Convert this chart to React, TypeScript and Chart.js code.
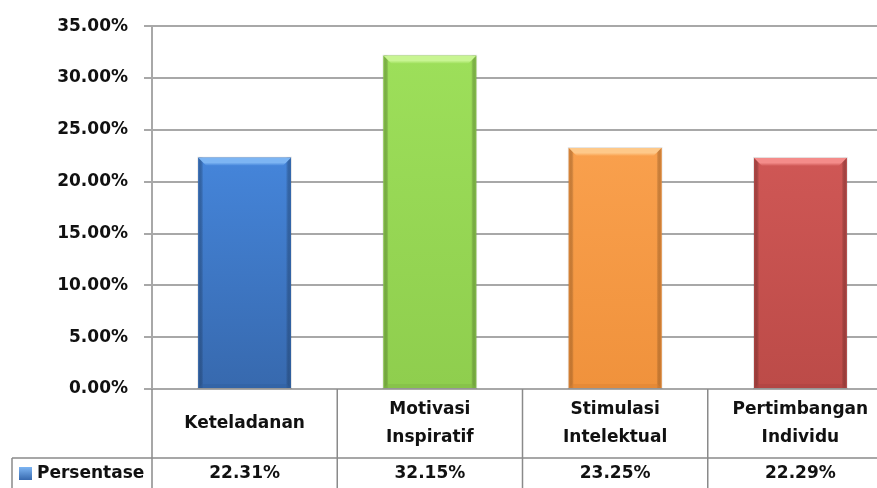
import React, { useEffect, useRef } from "react";
import { Chart, registerables } from "chart.js";

Chart.register(...registerables);

const categories: string[][] = [
  ["Keteladanan"],
  ["Motivasi", "Inspiratif"],
  ["Stimulasi", "Intelektual"],
  ["Pertimbangan", "Individu"],
];
const seriesName = "Persentase";
const values: number[] = [0.2231, 0.3215, 0.2325, 0.2229];
const valueLabels: string[] = ["22.31%", "32.15%", "23.25%", "22.29%"];
const yMin = 0;
const yMax = 0.35;
const yStep = 0.05;

const barPalette = [
  { body: "#4585da", light: "#7db5f3", dark: "#3769ae", edge: "#30609f" },
  { body: "#9ddf5a", light: "#c8f592", dark: "#8fce4e", edge: "#80b746" },
  { body: "#f9a04d", light: "#fec98a", dark: "#f0923c", edge: "#db8232" },
  { body: "#cf5755", light: "#f48c8a", dark: "#bc4b48", edge: "#a94240" },
];

const FONT = '"DejaVu Sans", sans-serif';
const TABLE_LEFT = 12;
const ROW1_BOTTOM = 458;

const bevelPlugin = {
  id: "bevel",
  afterDatasetsDraw(chart: any) {
    const ctx = chart.ctx;
    const meta = chart.getDatasetMeta(0);
    meta.data.forEach((bar: any, i: number) => {
      const p = barPalette[i % barPalette.length];
      const left = bar.x - bar.width / 2;
      const right = bar.x + bar.width / 2;
      const top = bar.y;
      const bottom = bar.base;
      const w = right - left;
      const h = bottom - top;
      ctx.save();
      const g = ctx.createLinearGradient(0, top, 0, bottom);
      g.addColorStop(0, p.body);
      g.addColorStop(1, p.dark);
      ctx.fillStyle = g;
      ctx.fillRect(left, top, w, h);
      const e = 5;
      const gl = ctx.createLinearGradient(left, 0, left + e, 0);
      gl.addColorStop(0, p.edge);
      gl.addColorStop(1, "rgba(0,0,0,0)");
      ctx.globalAlpha = 0.7;
      ctx.fillStyle = gl;
      ctx.fillRect(left, top, e, h);
      const gr = ctx.createLinearGradient(right - e, 0, right, 0);
      gr.addColorStop(0, "rgba(0,0,0,0)");
      gr.addColorStop(1, p.edge);
      ctx.fillStyle = gr;
      ctx.fillRect(right - e, top, e, h);
      ctx.globalAlpha = 1;
      const b = 8;
      const gt = ctx.createLinearGradient(0, top, 0, top + b);
      gt.addColorStop(0, p.light);
      gt.addColorStop(0.6, p.light);
      gt.addColorStop(1, p.body);
      ctx.fillStyle = gt;
      ctx.beginPath();
      ctx.moveTo(left, top);
      ctx.lineTo(right, top);
      ctx.lineTo(right - b, top + b);
      ctx.lineTo(left + b, top + b);
      ctx.closePath();
      ctx.fill();
      ctx.fillStyle = p.edge;
      ctx.globalAlpha = 0.5;
      ctx.beginPath();
      ctx.moveTo(left, bottom);
      ctx.lineTo(right, bottom);
      ctx.lineTo(right - 4, bottom - 4);
      ctx.lineTo(left + 4, bottom - 4);
      ctx.closePath();
      ctx.fill();
      ctx.globalAlpha = 1;
      ctx.strokeStyle = "rgba(0,0,0,0.10)";
      ctx.lineWidth = 1;
      ctx.strokeRect(left - 0.5, top - 0.5, w + 1, h + 1);
      ctx.restore();
    });
  },
};

const tablePlugin = {
  id: "dataTable",
  afterDraw(chart: any) {
    const ctx = chart.ctx;
    const area = chart.chartArea;
    const xs = chart.scales.x;
    const H = chart.height;
    const n = categories.length;
    const step = (area.right - area.left) / n;
    ctx.save();
    ctx.strokeStyle = "#8a8a8a";
    ctx.lineWidth = 1.5;
    for (let i = 0; i <= n; i++) {
      const x = area.left + step * i;
      ctx.beginPath();
      ctx.moveTo(x, area.bottom);
      ctx.lineTo(x, H);
      ctx.stroke();
    }
    ctx.beginPath();
    ctx.moveTo(TABLE_LEFT, ROW1_BOTTOM);
    ctx.lineTo(chart.width, ROW1_BOTTOM);
    ctx.stroke();
    ctx.beginPath();
    ctx.moveTo(TABLE_LEFT, ROW1_BOTTOM);
    ctx.lineTo(TABLE_LEFT, H);
    ctx.stroke();

    ctx.fillStyle = "#111";
    ctx.font = `bold 17px ${FONT}`;
    ctx.textAlign = "center";
    ctx.textBaseline = "middle";
    const rowMid = (area.bottom + ROW1_BOTTOM) / 2;
    const lineH = 28;
    categories.forEach((lines, i) => {
      const cx = xs.getPixelForValue(i);
      const startY = rowMid - ((lines.length - 1) * lineH) / 2;
      lines.forEach((t, j) => ctx.fillText(t, cx, startY + j * lineH));
      ctx.fillText(valueLabels[i], cx, 474);
    });
    const kx = 19, ky = 467, ks = 13;
    const kg = ctx.createLinearGradient(0, ky, 0, ky + ks);
    kg.addColorStop(0, barPalette[0].light);
    kg.addColorStop(1, barPalette[0].dark);
    ctx.fillStyle = kg;
    ctx.fillRect(kx, ky, ks, ks);
    ctx.fillStyle = "#111";
    ctx.textAlign = "left";
    ctx.fillText(seriesName, 37, 474);
    ctx.restore();
  },
};

export default function App() {
  const ref = useRef<HTMLCanvasElement>(null);
  useEffect(() => {
    document.body.style.margin = "0";
    const canvas = ref.current!;
    const chart = new Chart(canvas, {
      type: "bar",
      data: {
        labels: categories.map((c) => c.join(" ")),
        datasets: [
          {
            label: seriesName,
            data: values,
            backgroundColor: barPalette.map((p) => p.body),
            borderWidth: 0,
            categoryPercentage: 1,
            barPercentage: 0.5,
          },
        ],
      },
      options: {
        animation: false,
        responsive: false,
        devicePixelRatio: 1,
        layout: { padding: { top: 25, right: 0, bottom: 99, left: 0 } },
        plugins: { legend: { display: false }, tooltip: { enabled: false } },
        scales: {
          x: { display: false },
          y: {
            min: yMin,
            max: yMax,
            afterFit: (s: any) => {
              s.width = 152;
            },
            ticks: {
              stepSize: yStep,
              padding: 16,
              color: "#111",
              font: { family: FONT, size: 17, weight: "bold" },
              callback: (v: any) => (Number(v) * 100).toFixed(2) + "%",
            },
            grid: { color: "#a8a8a8", lineWidth: 2, tickLength: 8 },
            border: { color: "#a8a8a8", width: 2 },
          },
        },
      },
      plugins: [bevelPlugin, tablePlugin],
    });
    return () => chart.destroy();
  }, []);
  return (
    <div style={{ position: "absolute", left: 0, top: 0, width: 877, height: 488, overflow: "hidden", background: "#fff" }}>
      <canvas ref={ref} width={893} height={488} style={{ display: "block" }} />
    </div>
  );
}
